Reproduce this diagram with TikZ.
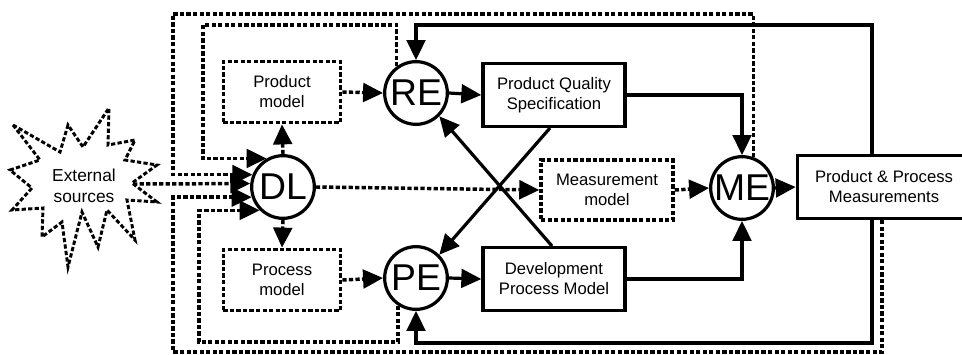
\documentclass[tikz,border=0pt]{standalone}
\usepackage{fontspec}
\setmainfont{Liberation Sans}
\usetikzlibrary{arrows.meta,calc}
\begin{document}
\begin{tikzpicture}
[x=0.75pt,y=-0.75pt,
 dotdecorate/.style={line width=2.6pt,dash pattern=on 3.2pt off 1.7pt},
 circledecorate/.style={shape=circle,draw,line width=2.4pt,minimum size=47pt,inner sep=0pt,font=\fontsize{28}{28}\selectfont},
 boxdecorate/.style={shape=rectangle,draw,line width=2.5pt,minimum width=106.5pt,minimum height=47pt,inner sep=2pt,align=center,font=\fontsize{12.5}{15}\selectfont},
 modeldecorate/.style={boxdecorate,dotdecorate,minimum width=88pt,minimum height=46pt},
 linedecorate/.style={-{Triangle[length=15pt,width=14pt]},line width=2.4pt},
 dotlinedecorate/.style={linedecorate,dotdecorate}]
\useasboundingbox (0,0) rectangle (962,354);
%% circles
\foreach \nodename/\x/\y in {DL/283/187, RE/416/93, PE/416/278, ME/742/188} {
  \node (\nodename) at (\x,\y) [circledecorate] {\nodename};
}
%% boxes
\node (ProdM) at (282,92) [modeldecorate] {Product\\model};
\node (ProcM) at (282,280) [modeldecorate] {Process\\model};
\node (MeasM) at (607,190) [modeldecorate,minimum width=99pt,minimum height=45pt] {Measurement\\model};
\node (PQS) at (554,95) [boxdecorate] {Product Quality\\Specification};
\node (DPM) at (554,279) [boxdecorate] {Development\\Process Model};
\node (PPM) at (884,187) [boxdecorate,minimum width=130pt] {Product \& Process\\Measurements};
%% external sources
\draw[dotdecorate,line width=2.2pt] (13,125) -- (60,152) -- (68,125) -- (83,147) -- (109,108)
  -- (108,145) -- (135,140) -- (125,160) -- (157,165) -- (132,183) -- (157,202)
  -- (127,200) -- (135,240) -- (107,210) -- (98,247) -- (82,212) -- (68,267)
  -- (62,222) -- (42,237) -- (43,208) -- (12,210) -- (32,188) -- (10,170)
  -- (40,160) -- cycle;
\node (Ext) at (84,186) [align=center,font=\fontsize{13}{16}\selectfont] {External\\sources};
%% corners of the loops
\coordinate (ExtOut) at (133,184);
\coordinate (OuterTop) at (173,14);
\coordinate (InnerTop) at (203,25);
\coordinate (OuterBot) at (173,352);
\coordinate (InnerBot) at (199,342);
\coordinate (SolidTop) at (416,25);
\coordinate (SolidBot) at (416,343);
%% dotted lines
\path
\foreach \startnode/\endnode in {DL.north/ProdM.south, DL.south/ProcM.north, ProdM.east/RE.west,
  ProcM.east/PE.west, DL.east/MeasM.west, MeasM.east/ME.west, ExtOut/DL.174} {
  (\startnode) edge[dotlinedecorate] (\endnode)
};
\draw[dotlinedecorate] (ME.70) |- (OuterTop) |- (DL.158);
\draw[dotlinedecorate] (RE.126) |- (InnerTop) |- (DL.120);
\draw[dotlinedecorate] ($(PPM.south)+(-2,0)$) |- (OuterBot) |- (DL.198);
\draw[dotlinedecorate] (PE.237) |- (InnerBot) |- (DL.225);
%% solid lines
\path
\foreach \startnode/\endnode in {RE.east/PQS.west, PE.east/DPM.west, ME.east/PPM.west} {
  (\startnode) edge[linedecorate] (\endnode)
};
\draw[linedecorate] (PQS.east) -| (ME.north);
\draw[linedecorate] (DPM.east) -| (ME.south);
\draw[linedecorate] ($(PQS.south)+(-4,0)$) -- (PE.45);
\draw[linedecorate] ($(DPM.north)+(-2,0)$) -- (RE.-45);
\draw[linedecorate] ($(PPM.north)+(-12,0)$) |- (SolidTop) -- (RE.north);
\draw[linedecorate] ($(PPM.south)+(-12,0)$) |- (SolidBot) -- (PE.south);
\end{tikzpicture}
\end{document}
